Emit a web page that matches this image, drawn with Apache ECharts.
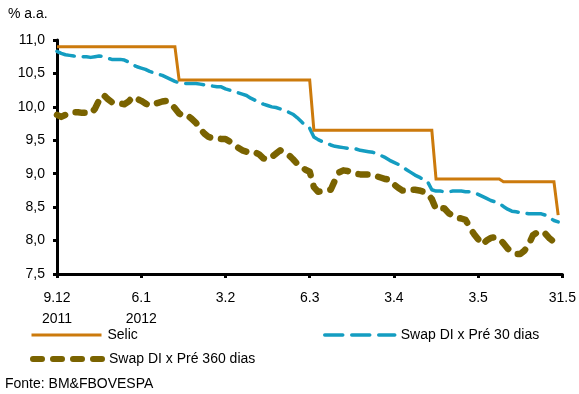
<!DOCTYPE html>
<html>
<head>
<meta charset="utf-8">
<script src="https://cdn.jsdelivr.net/npm/echarts@6/dist/echarts.min.js"></script>
<style>
  html, body { margin: 0; padding: 0; background: #fff; }
  #chart { width: 579px; height: 394px; }
</style>
</head>
<body>
<div id="chart"></div>
<script>
// Business-day index 0..120 (9.12.2011 .. 31.5.2012); a tick every 20 trading days
const tickLabels = ['9.12\n2011', '6.1\n2012', '3.2', '6.3', '3.4', '3.5', '31.5'];

// Selic effective rate, % a.a.
const selic = [
  10.9, 10.9, 10.9, 10.9, 10.9, 10.9, 10.9, 10.9, 10.9, 10.9,
  10.9, 10.9, 10.9, 10.9, 10.9, 10.9, 10.9, 10.9, 10.9, 10.9,
  10.9, 10.9, 10.9, 10.9, 10.9, 10.9, 10.9, 10.9, 10.9,
  10.4, 10.4, 10.4, 10.4, 10.4, 10.4, 10.4, 10.4, 10.4, 10.4, 10.4,
  10.4, 10.4, 10.4, 10.4, 10.4, 10.4, 10.4, 10.4, 10.4, 10.4,
  10.4, 10.4, 10.4, 10.4, 10.4, 10.4, 10.4, 10.4, 10.4, 10.4, 10.4,
  9.65, 9.65, 9.65, 9.65, 9.65, 9.65, 9.65, 9.65, 9.65, 9.65,
  9.65, 9.65, 9.65, 9.65, 9.65, 9.65, 9.65, 9.65, 9.65, 9.65,
  9.65, 9.65, 9.65, 9.65, 9.65, 9.65, 9.65, 9.65, 9.65,
  8.92, 8.92, 8.92, 8.92, 8.92, 8.92, 8.92, 8.92, 8.92, 8.92,
  8.92, 8.92, 8.92, 8.92, 8.92, 8.92,
  8.88, 8.88, 8.88, 8.88, 8.88, 8.88, 8.88, 8.88, 8.88, 8.88,
  8.88, 8.88, 8.88,
  8.38
];

// Swap DI x Pré 30 dias
const swap30 = [
  10.83, 10.80, 10.78, 10.77, 10.76, 10.75, 10.75, 10.75, 10.74, 10.75,
  10.76, 10.75, 10.73, 10.71, 10.71, 10.71, 10.70, 10.67, 10.63, 10.60,
  10.58, 10.56, 10.53, 10.51, 10.49, 10.47, 10.44, 10.41, 10.38, 10.36,
  10.35, 10.35, 10.35, 10.35, 10.34, 10.33, 10.32, 10.31, 10.30, 10.30,
  10.27, 10.25, 10.23, 10.21, 10.19, 10.17, 10.13, 10.10, 10.07, 10.04,
  10.02, 10.00, 9.99, 9.97, 9.95, 9.92, 9.89, 9.84, 9.78, 9.72,
  9.68, 9.55, 9.51, 9.48, 9.46, 9.43, 9.41, 9.40, 9.39, 9.38,
  9.38, 9.37, 9.35, 9.34, 9.33, 9.32, 9.30, 9.27, 9.24, 9.20,
  9.17, 9.14, 9.10, 9.06, 9.02, 8.98, 8.95, 8.91, 8.88, 8.76,
  8.74, 8.74, 8.73, 8.73, 8.74, 8.74, 8.74, 8.73, 8.73, 8.72,
  8.69, 8.66, 8.63, 8.60, 8.58, 8.56, 8.51, 8.47, 8.44, 8.43,
  8.42, 8.41, 8.40, 8.40, 8.40, 8.40, 8.38, 8.34, 8.30, 8.28
];

// Swap DI x Pré 360 dias
const swap360 = [
  9.88, 9.85, 9.88, 9.91, 9.92, 9.92, 9.91, 9.91, 9.90, 9.97,
  10.10, 10.18, 10.12, 10.07, 10.05, 10.05, 10.04, 10.08, 10.15, 10.12,
  10.09, 10.05, 10.02, 10.04, 10.06, 10.08, 10.09, 10.05, 9.98, 9.90,
  9.86, 9.87, 9.82, 9.76, 9.67, 9.60, 9.55, 9.53, 9.53, 9.52,
  9.52, 9.48, 9.44, 9.39, 9.35, 9.33, 9.34, 9.32, 9.29, 9.23,
  9.21, 9.25, 9.30, 9.35, 9.31, 9.28, 9.22, 9.15, 9.10, 9.06,
  9.03, 8.80, 8.73, 8.74, 8.75, 8.76, 8.90, 9.02, 9.05, 9.04,
  9.02, 9.00, 8.99, 8.99, 8.99, 8.97, 8.96, 8.94, 8.92, 8.91,
  8.84, 8.79, 8.75, 8.75, 8.76, 8.76, 8.75, 8.73, 8.70, 8.62,
  8.47, 8.49, 8.48, 8.41, 8.37, 8.34, 8.33, 8.31, 8.20, 8.10,
  8.02, 7.94, 8.00, 8.04, 8.05, 8.03, 7.96, 7.88, 7.83, 7.80,
  7.80, 7.85, 7.94, 8.08, 8.12, 8.14, 8.10, 8.03, 7.98, 7.93
];

const seriesNames = ['Selic', 'Swap DI x Pré 30 dias', 'Swap DI x Pré 360 dias'];
const colors = ['#CC7A0C', '#149DC1', '#7A6300'];

const FONT = '"Liberation Sans", Arial, sans-serif';
const toPairs = arr => arr.map((v, i) => [i, v]);

const chart = echarts.init(document.getElementById('chart'), null, { renderer: 'canvas' });

const legendBase = {
  orient: 'horizontal',
  itemWidth: 70,
  itemHeight: 14,
  itemGap: 6,
  itemStyle: { opacity: 0 },
  textStyle: { fontFamily: FONT, fontSize: 14, color: '#000', padding: [0, 0, 0, 1] },
  padding: 0,
  selectedMode: false
};

chart.setOption({
  animation: false,
  backgroundColor: '#fff',
  textStyle: { fontFamily: FONT },
  grid: { left: 57, right: 13, top: 40, bottom: 120, containLabel: false },
  graphic: [
    { type: 'text', left: 8, top: 7,
      style: { text: '% a.a.', font: '14px ' + FONT, fill: '#000' } },
    { type: 'text', left: 5, top: 377,
      style: { text: 'Fonte: BM&FBOVESPA', font: '14px ' + FONT, fill: '#000' } }
  ],
  legend: [
    Object.assign({}, legendBase, { data: [seriesNames[0]], left: 30, top: 328,
      lineStyle: { width: 3 } }),
    Object.assign({}, legendBase, { data: [seriesNames[1]], left: 323, top: 328,
      lineStyle: { width: 3.5 } }),
    Object.assign({}, legendBase, { data: [seriesNames[2]], left: 30, top: 352,
      lineStyle: { width: 6 } })
  ],
  xAxis: {
    type: 'value',
    min: 0, max: 120, interval: 20,
    splitLine: { show: false },
    axisLine: { show: true, onZero: false, lineStyle: { color: '#000', width: 3 } },
    axisTick: { show: true, inside: false, length: 4, lineStyle: { color: '#000', width: 3 } },
    axisLabel: {
      margin: 14, fontFamily: FONT, fontSize: 14, color: '#000', lineHeight: 21,
      formatter: v => tickLabels[Math.round(v / 20)]
    }
  },
  yAxis: {
    type: 'value',
    min: 7.5, max: 11, interval: 0.5,
    splitLine: { show: false },
    axisLine: { show: true, onZero: false, lineStyle: { color: '#000', width: 3 } },
    axisTick: { show: true, inside: false, length: 4, lineStyle: { color: '#000', width: 3 } },
    axisLabel: {
      margin: 12, fontFamily: FONT, fontSize: 14, color: '#000',
      formatter: v => v.toFixed(1).replace('.', ',')
    }
  },
  series: [
    {
      name: seriesNames[0], type: 'line', data: toPairs(selic),
      symbol: 'none', z: 3,
      lineStyle: { color: colors[0], width: 3, join: 'miter' },
      itemStyle: { color: colors[0] }
    },
    {
      name: seriesNames[1], type: 'line', data: toPairs(swap30),
      symbol: 'none', z: 2,
      lineStyle: { color: colors[1], width: 3.5, type: [18, 9], cap: 'round', join: 'round' },
      itemStyle: { color: colors[1] }
    },
    {
      name: seriesNames[2], type: 'line', data: toPairs(swap360),
      symbol: 'none', z: 1,
      lineStyle: { color: colors[2], width: 6.5, type: [9, 11], cap: 'round', join: 'round' },
      itemStyle: { color: colors[2] }
    }
  ]
});
</script>
</body>
</html>
